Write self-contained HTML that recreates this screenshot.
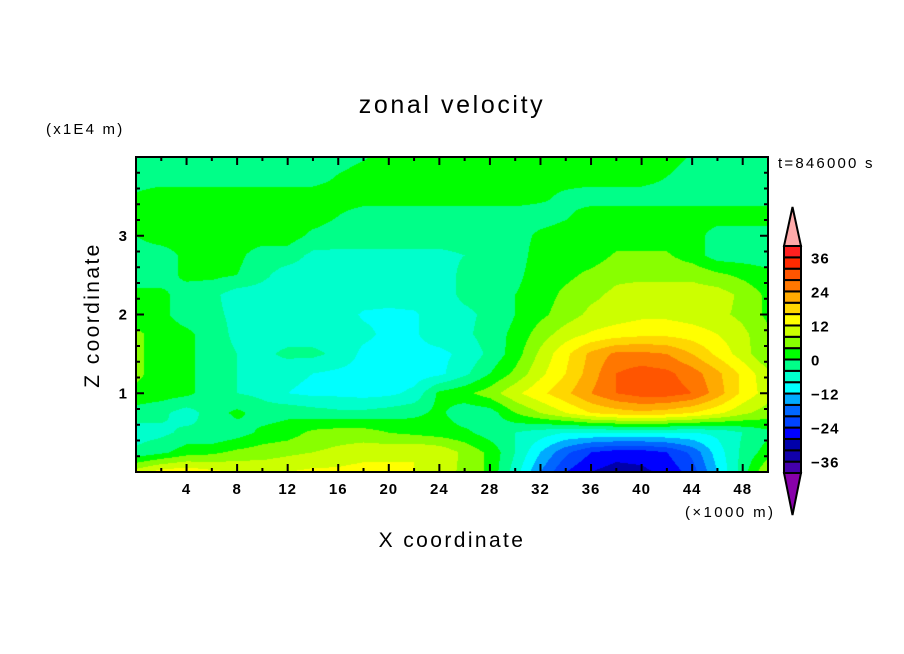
<!DOCTYPE html>
<html><head><meta charset="utf-8"><style>
html,body{margin:0;padding:0;background:#fff;}
#wrap{position:relative;width:904px;height:654px;overflow:hidden;font-family:"Liberation Sans",sans-serif;}
svg{position:absolute;left:0;top:0;}
</style></head><body>
<div id="wrap">
<canvas id="cv" width="632" height="315" style="position:absolute;left:136px;top:157px;"></canvas>
<svg id="sv" width="904" height="654"></svg>
</div>
<script>
const xGrid = [0,2,4,6,8,10,12,14,16,18,20,22,24,26,28,30,32,34,36,38,40,42,44,46,48,50];
const zGrid = [4,3.75,3.5,3.25,3,2.75,2.5,2.25,2,1.75,1.5,1.25,1,0.75,0.5,0.25,0];
const zonalU = [
[-2,-2,-2,-2,-2,-2,-2,-2,-2,-0.5,2,2,2,2,2,2,2,2,2,2,2,2,-0.5,-2,-2,-2],
[-2,-2,-2,-2,-2,-2,-2,-2,0.3,2,2,2,2,2,2,2,2,2,2,2,2,0,-2,-2,-2,-2],
[0.5,2,2,2,2,2,2,2,2,2,2,2,2,2,2,2,1,-1,-2,-2,-2,-2,-2,-2,-2,-2],
[2,2,2,2,2,2,2,2,0,-2,-2,-2,-2,-2,-2,-2,-2,-0.5,2,2,2,2,2,2,2,2],
[0,2,2,2,2,2,2,-1,-2,-2,-2,-2,-2,-2,-2,-2,1,2,2,2,2,2,2,-2,-2,-2],
[-2,-2,1,1,1,-2,-2,-5,-5,-5,-5,-5,-5,-4,-3,-2,2,2,2,4.5,4.5,4.5,2,-2,-2,-2],
[-2,-2,1,1,0,-3,-6,-6,-6,-6,-6,-6,-6,-3,-2,-1,2,3,5,7,7,7,7,5,3,1],
[1,1,-2,-3,-6,-6,-6,-6,-6,-6,-6,-6,-6,-3,-2,0,2,5,7,9,10,10,10,10,7,3],
[1.5,1,-2,-3,-5,-6,-6,-6,-6,-8.5,-9,-8.5,-6,-5,-3,0,3,6,9,10,11,11,10,9,7,3],
[5,2,1,-2,-5,-6,-6,-6,-6,-7,-9,-8.5,-6,-5,-2,1,6,10,12.5,14,15,15,14,12,9,5],
[5,2,1,-2,-4,-5,-3,-3,-5,-9,-9.5,-9,-9,-7,-3,2,9,15,21,25,25,24,20,15,10,4],
[5,2,1,-2,-4,-5,-7,-8,-9,-9.5,-10,-10,-9,-5,0,5,11,16,22,28,30,29,26,21,15,9],
[3,2,1,-2,-4,-5,-8,-9,-9,-9.5,-9,-7,1,3,6,11,15,19,24,28,30,30,28,22,15,10],
[-2,-3,-6,-2,1,-2,-1,-2,-3,-3,-2,-1,1,-3,-2,4,8,12,16,18,19,18,16,13,9,6],
[-6,-5,-3,-4,-2,1,2,5,6,6,4,3,2,1,-2,-4,-6,-8,-8,-8,-8,-8,-8,-7,-4,-1],
[-3,-1,2,3,5,6,7,8,9,10,11,12,11,7,3,-4,-12,-19,-24,-26,-26,-24,-19,-10,-3,2],
[10,14,15,13,12,11,12,13,13,14,13,12,10,7,3,-6,-16,-24,-28,-30,-29,-27,-22,-12,-2,8]
];
const levelColors = ["#4400aa","#1100aa","#0000aa","#0000ff","#0044ff","#0066ff","#00aaff","#00ffff","#00ffcc","#00ff88","#00ff00","#88ff00","#ccff00","#ffff00","#ffd700","#ffaa00","#ff7700","#ff5500","#ff2a00","#ff2020"];
const levelMin = -40, levelStep = 4;
const xTicks = [4,8,12,16,20,24,28,32,36,40,44,48];
const zTicks = [1,2,3];
const cbLabels = [36,24,12,0,-12,-24,-36];

const PX0=136, PX1=768, PY0=157, PY1=472, XMAX=50, ZMAX=4;
const sx = x => PX0 + x/XMAX*(PX1-PX0);
const sz = z => PY1 - z/ZMAX*(PY1-PY0);

function sample(x,z){
  let fi = x/2; let i=Math.min(Math.floor(fi),xGrid.length-2); let tx=fi-i;
  let fj = (ZMAX-z)/0.25; let j=Math.min(Math.floor(fj),zGrid.length-2); let tz=fj-j;
  const a=zonalU[j][i],b=zonalU[j][i+1],c=zonalU[j+1][i],d=zonalU[j+1][i+1];
  return (a*(1-tx)+b*tx)*(1-tz)+(c*(1-tx)+d*tx)*tz;
}
function hex(h){return [parseInt(h.substr(1,2),16),parseInt(h.substr(3,2),16),parseInt(h.substr(5,2),16)];}
const rgb = levelColors.map(hex);
const ctx = document.getElementById('cv').getContext('2d');
const W=632,H=315; const img=ctx.createImageData(W,H);
for(let py=0;py<H;py++){for(let px=0;px<W;px++){
  const x=(px+0.5)/W*XMAX, z=ZMAX-(py+0.5)/H*ZMAX;
  const v=sample(x,z);
  let k=Math.floor((v-levelMin)/levelStep); k=Math.max(0,Math.min(levelColors.length-1,k));
  const o=(py*W+px)*4; img.data[o]=rgb[k][0];img.data[o+1]=rgb[k][1];img.data[o+2]=rgb[k][2];img.data[o+3]=255;
}}
ctx.putImageData(img,0,0);

const NS="http://www.w3.org/2000/svg"; const sv=document.getElementById('sv');
function el(t,a,txt){const e=document.createElementNS(NS,t);for(const k in a)e.setAttribute(k,a[k]);if(txt!==undefined)e.textContent=txt;sv.appendChild(e);return e;}
let e;
e=el('rect',{x:PX0,y:PY0,width:PX1-PX0,height:PY1-PY0,fill:'none',stroke:'#000','stroke-width':2});


let d='';
for(let x=2;x<XMAX;x+=2){const L=(x%4===0)?8:4;const X=sx(x);d+=`M${X} ${PY1}v${-L}M${X} ${PY0}v${L}`;}
for(let k=1;k<20;k++){const z=k*0.2;const L=(k%5===0)?8:4;const Y=sz(z);d+=`M${PX0} ${Y}h${L}M${PX1} ${Y}h${-L}`;}
e=el('path',{d:d,stroke:'#000','stroke-width':2,fill:'none'});


const tf='font-family:"Liberation Sans",sans-serif;font-weight:bold;font-size:15px;letter-spacing:1px;';
xTicks.forEach(t=>{e=el('text',{x:sx(t),y:494,'text-anchor':'middle',style:tf},String(t));

});
zTicks.forEach(t=>{e=el('text',{x:128,y:sz(t)+5,'text-anchor':'end',style:tf},String(t));

});
e=el('text',{x:452,y:113,'text-anchor':'middle',style:'font-size:25px;letter-spacing:2.6px;'},'zonal velocity');


e=el('text',{x:452,y:547,'text-anchor':'middle',style:'font-size:21px;letter-spacing:2.4px;'},'X coordinate');


e=el('text',{x:0,y:0,'text-anchor':'middle',transform:'translate(99,315) rotate(-90)',style:'font-size:21px;letter-spacing:2.4px;'},'Z coordinate');


e=el('text',{x:46,y:134,style:'font-size:15px;letter-spacing:2.2px;'},'(x1E4 m)');


e=el('text',{x:685,y:517,style:'font-size:15px;letter-spacing:2.4px;'},'(×1000 m)');


e=el('text',{x:778,y:168,style:'font-size:15px;letter-spacing:2.2px;'},'t=846000 s');



// colorbar
const CBX0=784,CBX1=801,CBT=246,CBB=473; const n=levelColors.length; const bh=(CBB-CBT)/n;
const cbv = v => CBB-(v-levelMin)/levelStep*bh;
levelColors.forEach((c,k)=>{e=el('rect',{x:CBX0,y:cbv(levelMin+(k+1)*levelStep),width:CBX1-CBX0,height:bh,fill:c,stroke:'#000','stroke-width':2});

});
e=el('polygon',{points:`${CBX0},${CBT} ${CBX1},${CBT} ${(CBX0+CBX1)/2},207`,fill:'#ffaaaa',stroke:'#000','stroke-width':2});


e=el('polygon',{points:`${CBX0},${CBB} ${CBX1},${CBB} ${(CBX0+CBX1)/2},515`,fill:'#8800aa',stroke:'#000','stroke-width':2});


cbLabels.forEach(v=>{e=el('text',{x:811,y:cbv(v)+6,style:tf},String(v).replace('-','−'));

});
</script>
</body></html>
